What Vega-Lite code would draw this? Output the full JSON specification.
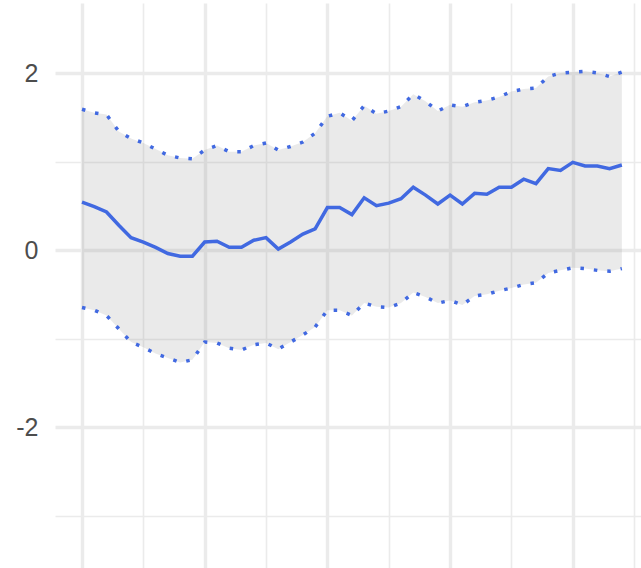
{
  "$schema": "https://vega.github.io/schema/vega-lite/v6.json",
  "width": 586,
  "height": 565,
  "autosize": {"type": "none"},
  "padding": {"left": 55, "top": 3, "right": 0, "bottom": 0},
  "background": "white",
  "config": {"view": {"stroke": null}},
  "data": {
    "values": [
      {"x": 0, "mean": 0.54, "lo": -0.65, "hi": 1.59},
      {"x": 1, "mean": 0.49, "lo": -0.68, "hi": 1.55},
      {"x": 2, "mean": 0.43, "lo": -0.74, "hi": 1.53},
      {"x": 3, "mean": 0.28, "lo": -0.89, "hi": 1.34},
      {"x": 4, "mean": 0.14, "lo": -1.04, "hi": 1.26},
      {"x": 5, "mean": 0.09, "lo": -1.10, "hi": 1.21},
      {"x": 6, "mean": 0.03, "lo": -1.17, "hi": 1.14},
      {"x": 7, "mean": -0.04, "lo": -1.22, "hi": 1.07},
      {"x": 8, "mean": -0.07, "lo": -1.27, "hi": 1.04},
      {"x": 9, "mean": -0.07, "lo": -1.24, "hi": 1.03},
      {"x": 10, "mean": 0.09, "lo": -1.04, "hi": 1.13},
      {"x": 11, "mean": 0.10, "lo": -1.05, "hi": 1.18},
      {"x": 12, "mean": 0.03, "lo": -1.11, "hi": 1.11},
      {"x": 13, "mean": 0.03, "lo": -1.13, "hi": 1.11},
      {"x": 14, "mean": 0.11, "lo": -1.07, "hi": 1.18},
      {"x": 15, "mean": 0.14, "lo": -1.05, "hi": 1.21},
      {"x": 16, "mean": 0.01, "lo": -1.12, "hi": 1.13},
      {"x": 17, "mean": 0.09, "lo": -1.04, "hi": 1.17},
      {"x": 18, "mean": 0.18, "lo": -0.96, "hi": 1.22},
      {"x": 19, "mean": 0.24, "lo": -0.87, "hi": 1.32},
      {"x": 20, "mean": 0.48, "lo": -0.68, "hi": 1.51},
      {"x": 21, "mean": 0.48, "lo": -0.68, "hi": 1.55},
      {"x": 22, "mean": 0.40, "lo": -0.74, "hi": 1.46},
      {"x": 23, "mean": 0.59, "lo": -0.60, "hi": 1.63},
      {"x": 24, "mean": 0.50, "lo": -0.64, "hi": 1.54},
      {"x": 25, "mean": 0.53, "lo": -0.65, "hi": 1.57},
      {"x": 26, "mean": 0.58, "lo": -0.60, "hi": 1.62},
      {"x": 27, "mean": 0.71, "lo": -0.48, "hi": 1.76},
      {"x": 28, "mean": 0.62, "lo": -0.53, "hi": 1.68},
      {"x": 29, "mean": 0.52, "lo": -0.60, "hi": 1.57},
      {"x": 30, "mean": 0.62, "lo": -0.57, "hi": 1.64},
      {"x": 31, "mean": 0.52, "lo": -0.62, "hi": 1.62},
      {"x": 32, "mean": 0.64, "lo": -0.52, "hi": 1.67},
      {"x": 33, "mean": 0.63, "lo": -0.50, "hi": 1.69},
      {"x": 34, "mean": 0.71, "lo": -0.46, "hi": 1.73},
      {"x": 35, "mean": 0.71, "lo": -0.43, "hi": 1.79},
      {"x": 36, "mean": 0.80, "lo": -0.39, "hi": 1.82},
      {"x": 37, "mean": 0.75, "lo": -0.37, "hi": 1.83},
      {"x": 38, "mean": 0.92, "lo": -0.26, "hi": 1.96},
      {"x": 39, "mean": 0.90, "lo": -0.23, "hi": 2.00},
      {"x": 40, "mean": 0.99, "lo": -0.20, "hi": 2.01},
      {"x": 41, "mean": 0.95, "lo": -0.21, "hi": 2.02},
      {"x": 42, "mean": 0.95, "lo": -0.23, "hi": 2.00},
      {"x": 43, "mean": 0.92, "lo": -0.24, "hi": 1.96},
      {"x": 44, "mean": 0.96, "lo": -0.21, "hi": 2.01}
    ]
  },
  "encoding": {
    "x": {
      "field": "x",
      "type": "quantitative",
      "title": null,
      "scale": {"domain": [-2.2, 45.56], "nice": false, "zero": false},
      "axis": {
        "values": [0, 5, 10, 15, 20, 25, 30, 35, 40, 45],
        "labels": false,
        "ticks": false,
        "domain": false,
        "grid": true,
        "gridColor": "#EBEBEB",
        "gridWidth": {"condition": {"test": "datum.value % 10 === 0", "value": 3.4}, "value": 1.6}
      }
    }
  },
  "layer": [
    {
      "mark": {"type": "area", "color": "#7F7F7F", "opacity": 0.16},
      "encoding": {
        "y": {
          "field": "lo",
          "type": "quantitative",
          "title": null,
          "scale": {"domain": [-3.593, 2.791], "nice": false, "zero": false},
          "axis": {
            "values": [-3, -2, -1, 0, 1, 2],
            "labelExpr": "datum.value % 2 === 0 ? toString(datum.value) : ''",
            "labelFont": "Liberation Sans",
            "labelFontSize": 25,
            "labelColor": "#4D4D4D",
            "labelPadding": 17,
            "labelFlush": false,
            "labelOverlap": false,
            "ticks": false,
            "domain": false,
            "grid": true,
            "gridColor": "#EBEBEB",
            "gridWidth": {"condition": {"test": "datum.value % 2 === 0", "value": 3.4}, "value": 1.6}
          }
        },
        "y2": {"field": "hi"}
      }
    },
    {
      "mark": {"type": "line", "color": "#4169E1", "strokeWidth": 3.5, "strokeDash": [3.5, 10], "strokeCap": "butt"},
      "encoding": {"y": {"field": "hi", "type": "quantitative"}}
    },
    {
      "mark": {"type": "line", "color": "#4169E1", "strokeWidth": 3.5, "strokeDash": [3.5, 10], "strokeCap": "butt"},
      "encoding": {"y": {"field": "lo", "type": "quantitative"}}
    },
    {
      "mark": {"type": "line", "color": "#4169E1", "strokeWidth": 3.5},
      "encoding": {"y": {"field": "mean", "type": "quantitative"}}
    }
  ]
}
